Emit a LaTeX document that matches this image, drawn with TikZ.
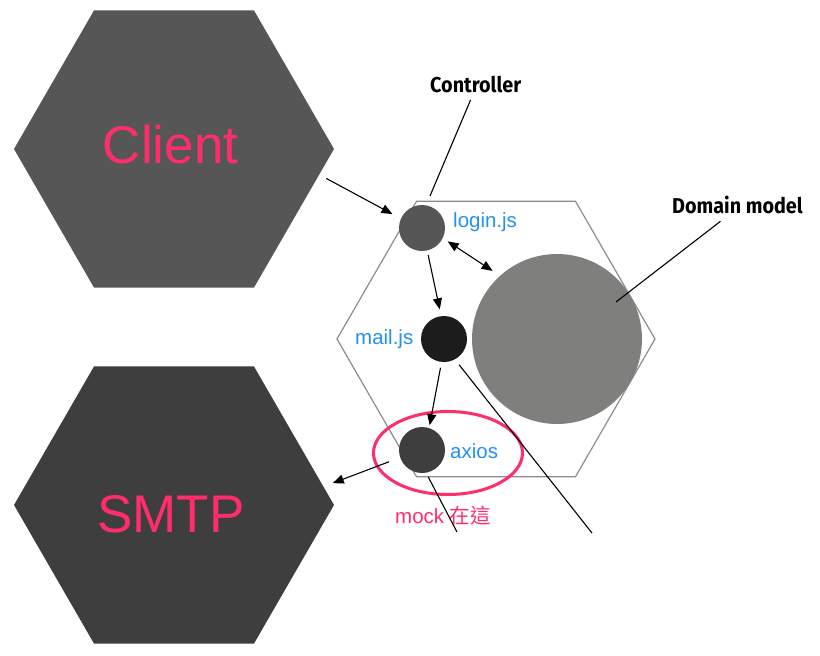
\documentclass[tikz,border=0pt]{standalone}
\usepackage{fontspec}
\setmainfont{Liberation Sans}
\newfontfamily\cjkfont{Noto Sans CJK TC}
\newfontfamily\calloutfont[FakeStretch=0.92]{Fira Sans}
\usetikzlibrary{shapes.geometric,arrows.meta}

\definecolor{hexclient}{HTML}{555655}
\definecolor{hexsmtp}{HTML}{3D3E3D}
\definecolor{modmail}{HTML}{1B1C1B}
\definecolor{moddomain}{HTML}{7F807E}
\definecolor{hotpink}{HTML}{FF2D6A}
\definecolor{codeblue}{HTML}{2290F5}
\definecolor{hexline}{HTML}{8C8C8C}

\tikzset{
  hexagon/.style={regular polygon, regular polygon sides=6, minimum size=#1,
    inner sep=0pt, outer sep=0pt},
  outerhex/.style={hexagon=320pt, draw=none},
  module/.style={circle, minimum size=46pt, inner sep=0pt, outer sep=0pt, draw=none},
  bigtext/.style={text=hotpink, inner sep=0pt, anchor=base,
    font=\fontsize{53}{60}\selectfont},
  filetext/.style={text=codeblue, inner sep=0pt, anchor=base west,
    font=\fontsize{20.5}{24}\selectfont},
  callout/.style={inner sep=0pt, anchor=base west,
    font=\calloutfont\bfseries\fontsize{21.5}{25}\selectfont},
  conn/.style={draw=black, line width=1.1pt},
  arr/.style={conn, -{Triangle[length=11pt,width=9pt]}},
  biarr/.style={conn, {Triangle[length=11pt,width=9pt]}-{Triangle[length=11pt,width=9pt]}},
}

\begin{document}
\begin{tikzpicture}[x=1pt, y=-1pt]
  \useasboundingbox (0,0) rectangle (820,656);

  % outer actors
  \node[outerhex, fill=hexclient] (client) at (174,149) {};
  \node[outerhex, fill=hexsmtp] (smtp) at (174,505) {};
  \node[bigtext] (clienttxt) at (170.5,163) {Client};
  \node[bigtext] (smtptxt) at (171,532) {SMTP};

  % application hexagon
  \node[hexagon=318pt, draw=hexline, line width=1.2pt] (app) at (496,339) {};

  % modules
  \node[module, fill=moddomain, minimum size=170pt] (domain) at (557,339) {};
  \node[module, fill=hexclient] (login) at (422,228) {};
  \node[module, fill=modmail] (mail) at (444,339) {};
  \node[module, fill=hexsmtp] (axios) at (422,450) {};

  \node[filetext] (logintxt) at (453,227) {login.js};
  \node[filetext] (mailtxt) at (355,344) {mail.js};
  \node[filetext] (axiostxt) at (450,458) {axios};

  % mock marker
  \node[ellipse, draw=hotpink, line width=3pt, minimum width=149pt,
        minimum height=83pt, inner sep=0pt] (mockring) at (448,453) {};
  \node[inner sep=0pt, anchor=base west, text=hotpink,
        font=\fontsize{20.5}{24}\selectfont] (mocktxt) at (395,523)
        {mock {\cjkfont 在這}};

  % callouts
  \node[callout] (ctrl) at (430,92) {Controller};
  \node[callout] (dom) at (672,213) {Domain model};
  \coordinate (ctrlend) at (430,196);
  \coordinate (domend) at (616,302);
  \coordinate (mailend) at (592,533);
  \coordinate (axiosend) at (457,532);

  \draw[conn, shorten <=8pt] ([xshift=-2pt]ctrl.south) -- (ctrlend);
  \draw[conn, shorten <=12.7pt] ([xshift=-7pt]dom.south) -- (domend);

  % dependencies
  \draw[arr, shorten <=8pt, shorten >=9.7pt] (client.-10.4) -- (login.156.6);
  \draw[arr, shorten <=4.7pt, shorten >=7pt] (login.-77.5) -- (mail.97.6);
  \draw[biarr, shorten <=6pt, shorten >=9pt] (login.-26.6) -- (domain.132.8);
  \draw[arr, shorten <=6pt, shorten >=3pt] (mail.-96) -- (axios.72);
  \draw[arr, shorten <=12pt, shorten >=10pt] (axios.-161.6) -- (smtp.7.1);
  \draw[conn, shorten <=7pt] (mail.-62.6) -- (mailend);
  \draw[conn, shorten <=5pt] (axios.-80) -- (axiosend);
\end{tikzpicture}
\end{document}
